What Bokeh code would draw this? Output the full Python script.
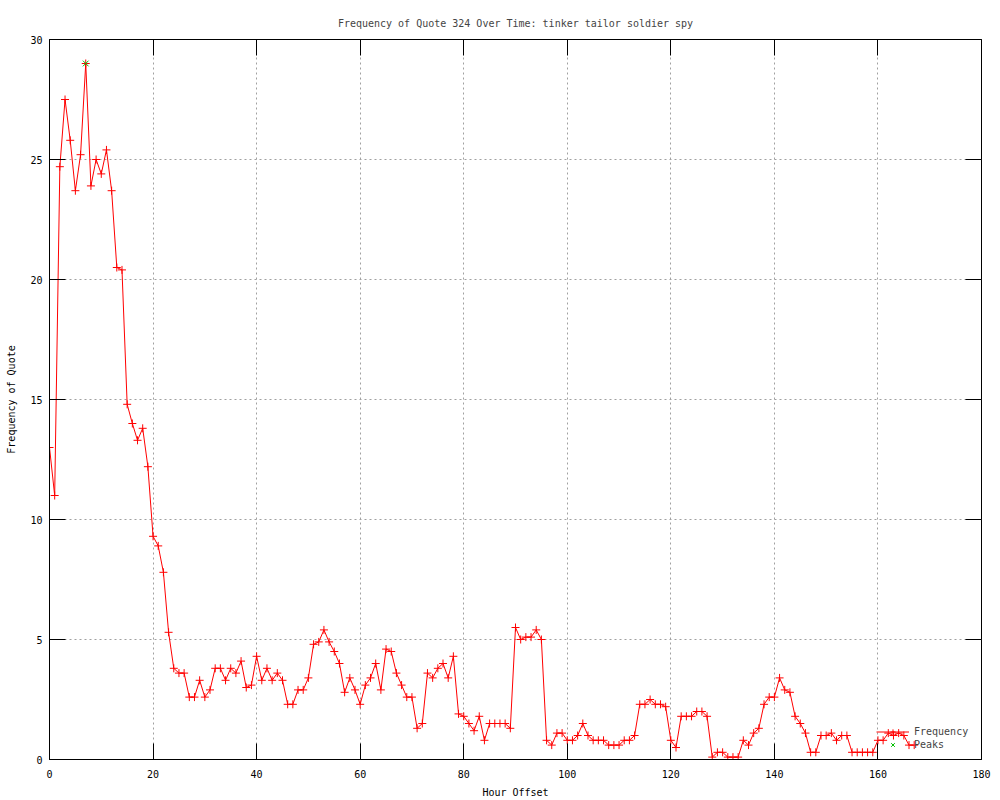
from bokeh.plotting import figure
from bokeh.models import Range1d, LinearAxis, FixedTicker, Legend, LegendItem
from bokeh.embed import file_html
from bokeh.resources import INLINE

hours = list(range(168))
frequency = [
    13.0, 11.0, 24.7, 27.5, 25.8, 23.7, 25.2, 29.0, 23.9, 25.0,
    24.4, 25.4, 23.7, 20.5, 20.4, 14.8, 14.0, 13.3, 13.8, 12.2,
    9.3, 8.9, 7.8, 5.3, 3.8, 3.6, 3.6, 2.6, 2.6, 3.3,
    2.6, 2.9, 3.8, 3.8, 3.3, 3.8, 3.6, 4.1, 3.0, 3.1,
    4.3, 3.3, 3.8, 3.3, 3.6, 3.3, 2.3, 2.3, 2.9, 2.9,
    3.4, 4.8, 4.9, 5.4, 4.9, 4.5, 4.0, 2.8, 3.4, 2.9,
    2.3, 3.1, 3.4, 4.0, 2.9, 4.6, 4.5, 3.6, 3.1, 2.6,
    2.6, 1.3, 1.5, 3.6, 3.4, 3.8, 4.0, 3.4, 4.3, 1.9,
    1.8, 1.5, 1.2, 1.8, 0.8, 1.5, 1.5, 1.5, 1.5, 1.3,
    5.5, 5.0, 5.1, 5.1, 5.4, 5.0, 0.8, 0.6, 1.1, 1.1,
    0.8, 0.8, 1.0, 1.5, 1.0, 0.8, 0.8, 0.8, 0.6, 0.6,
    0.6, 0.8, 0.8, 1.0, 2.3, 2.3, 2.5, 2.3, 2.3, 2.2,
    0.8, 0.5, 1.8, 1.8, 1.8, 2.0, 2.0, 1.8, 0.1, 0.3,
    0.3, 0.1, 0.1, 0.1, 0.8, 0.6, 1.1, 1.3, 2.3, 2.6,
    2.6, 3.4, 2.9, 2.8, 1.8, 1.5, 1.1, 0.3, 0.3, 1.0,
    1.0, 1.1, 0.8, 1.0, 1.0, 0.3, 0.3, 0.3, 0.3, 0.3,
    0.8, 0.8, 1.1, 1.0, 1.1, 1.0, 0.6, 0.6,
]
peak_hours = [7]
peak_values = [29.0]

x_ticks = [0, 20, 40, 60, 80, 100, 120, 140, 160, 180]
y_ticks = [0, 5, 10, 15, 20, 25, 30]

FONT = "DejaVu Sans Mono"
FS = "10px"

p = figure(width=1000, height=800, output_backend="svg", toolbar_location=None,
           x_range=Range1d(0, 180), y_range=Range1d(0, 30),
           min_border_left=49, min_border_right=19, min_border_top=39, min_border_bottom=40)
p.title.text = "Frequency of Quote 324 Over Time: tinker tailor soldier spy"
p.title.align = "center"
p.title.text_font = FONT
p.title.text_font_size = FS
p.title.text_font_style = "normal"
p.title.standoff = 22
p.outline_line_color = "black"
p.outline_line_width = 1
p.background_fill_color = "white"
p.border_fill_color = "white"

def style_axis(ax):
    ax.axis_line_color = "black"
    ax.major_tick_in = 16
    ax.major_tick_out = 0
    ax.minor_tick_in = 0
    ax.minor_tick_out = 0
    ax.major_tick_line_color = "black"
    ax.major_label_text_font = FONT
    ax.major_label_text_font_size = FS
    ax.major_label_text_color = "black"
    ax.axis_label_text_font = FONT
    ax.axis_label_text_font_size = FS
    ax.axis_label_text_font_style = "normal"
    ax.axis_label_text_color = "black"

xa = p.xaxis[0]
xa.ticker = FixedTicker(ticks=x_ticks)
xa.axis_label = "Hour Offset"
style_axis(xa)
xa.major_label_standoff = 10
xa.axis_label_standoff = 6

ya = p.yaxis[0]
ya.ticker = FixedTicker(ticks=y_ticks)
ya.axis_label = "Frequency of Quote"
style_axis(ya)
ya.major_label_standoff = 7
ya.axis_label_standoff = 10

# mirrored tick marks on the right and top, without labels
ra = LinearAxis(ticker=FixedTicker(ticks=y_ticks))
style_axis(ra)
ra.axis_line_color = None
ra.major_label_standoff = 0
ra.major_label_overrides = {t: "" for t in y_ticks}
p.add_layout(ra, "right")

ta = LinearAxis(ticker=FixedTicker(ticks=x_ticks))
style_axis(ta)
ta.axis_line_color = None
ta.major_label_standoff = 0
ta.major_label_overrides = {t: "" for t in x_ticks}
p.add_layout(ta, "above")

for g in (p.xgrid[0], p.ygrid[0]):
    g.grid_line_color = "#a0a0a0"
    g.grid_line_dash = "2 3"
    g.grid_line_width = 1
p.xgrid[0].ticker = FixedTicker(ticks=x_ticks[1:-1])
p.ygrid[0].ticker = FixedTicker(ticks=y_ticks[1:-1])

ln = p.line(hours, frequency, line_color="#ff0000", line_width=1)
mk = p.scatter(hours, frequency, marker="cross", size=8, line_color="#ff0000", line_width=1)
pk = p.scatter(peak_hours, peak_values, marker="x", size=8, line_color="#00c000", line_width=1)

legend = Legend(items=[LegendItem(label="Frequency", renderers=[ln, mk]),
                       LegendItem(label="Peaks", renderers=[pk])],
                location=(827, 8))
legend.label_text_font = FONT
legend.label_text_font_size = FS
legend.background_fill_alpha = 0
legend.border_line_color = None
legend.padding = 0
legend.spacing = 0
legend.margin = 0
legend.glyph_height = 13
legend.glyph_width = 33
legend.label_height = 13
legend.label_standoff = 5
p.add_layout(legend)

open("out.html", "w").write(file_html(p, INLINE))
